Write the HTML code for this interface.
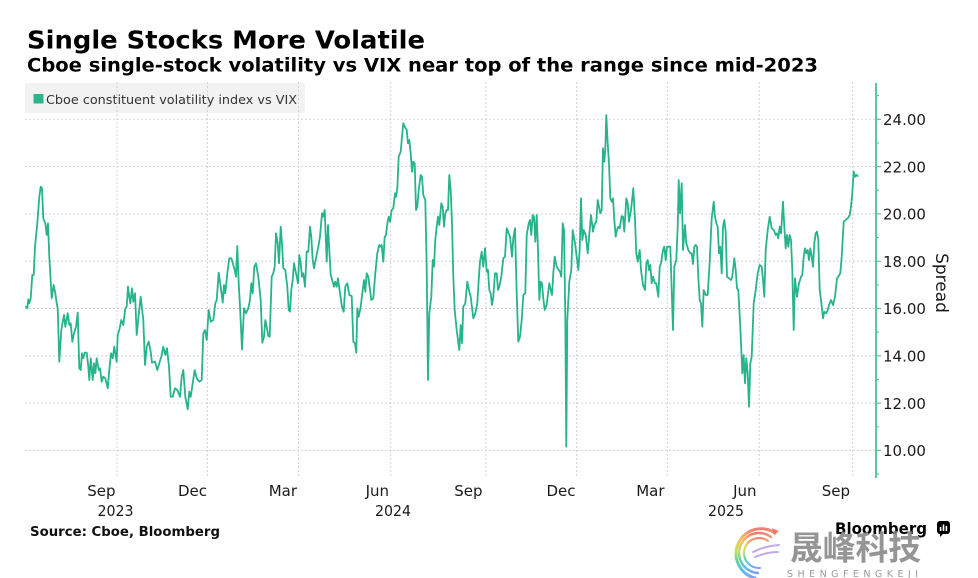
<!DOCTYPE html>
<html>
<head>
<meta charset="utf-8">
<style>
  html,body{margin:0;padding:0;background:#fff;}
  svg{display:block;}
  text{font-family:"DejaVu Sans","Liberation Sans",sans-serif;}
  .cjk{font-family:"Noto Sans CJK SC","WenQuanYi Zen Hei",sans-serif;}
</style>
</head>
<body>
<svg width="978" height="578" viewBox="0 0 978 578" xmlns="http://www.w3.org/2000/svg">
  <defs>
    <linearGradient id="rb" x1="0" y1="0" x2="0" y2="1">
      <stop offset="0" stop-color="#f2665a"/>
      <stop offset="0.22" stop-color="#f7b944"/>
      <stop offset="0.45" stop-color="#b6dc4c"/>
      <stop offset="0.65" stop-color="#55c98a"/>
      <stop offset="0.85" stop-color="#3cb4ea"/>
      <stop offset="1" stop-color="#6a8ff0"/>
    </linearGradient>
  </defs>
  <rect width="978" height="578" fill="#fff"/>

  <!-- Title -->
  <text x="27" y="48.5" font-size="25" font-weight="700" fill="#000" textLength="398" lengthAdjust="spacingAndGlyphs">Single Stocks More Volatile</text>
  <text x="27" y="71.5" font-size="18.5" font-weight="700" fill="#000" textLength="791" lengthAdjust="spacingAndGlyphs">Cboe single-stock volatility vs VIX near top of the range since mid-2023</text>

  <!-- Legend box -->
  <rect x="25" y="83" width="280" height="30" fill="#f2f2f2"/>
  <rect x="33.5" y="94" width="10" height="9.5" fill="#2db48d"/>
  <text x="46" y="104" font-size="12.5" fill="#333" textLength="251" lengthAdjust="spacingAndGlyphs">Cboe constituent volatility index vs VIX</text>

  <!-- Gridlines -->
  <g stroke="#d4d4d4" stroke-width="1" stroke-dasharray="2,2" fill="none">
    <line x1="25" y1="119.3" x2="875" y2="119.3"/>
    <line x1="25" y1="166.6" x2="875" y2="166.6"/>
    <line x1="25" y1="213.9" x2="875" y2="213.9"/>
    <line x1="25" y1="261.2" x2="875" y2="261.2"/>
    <line x1="25" y1="308.5" x2="875" y2="308.5"/>
    <line x1="25" y1="355.8" x2="875" y2="355.8"/>
    <line x1="25" y1="403.1" x2="875" y2="403.1"/>
    <line x1="25" y1="450.4" x2="875" y2="450.4"/>
    <line x1="117" y1="82" x2="117" y2="478"/>
    <line x1="207.5" y1="82" x2="207.5" y2="478"/>
    <line x1="298.5" y1="82" x2="298.5" y2="478"/>
    <line x1="390.7" y1="82" x2="390.7" y2="478"/>
    <line x1="486" y1="82" x2="486" y2="478"/>
    <line x1="576.5" y1="82" x2="576.5" y2="478"/>
    <line x1="667.3" y1="82" x2="667.3" y2="478"/>
    <line x1="759.3" y1="82" x2="759.3" y2="478"/>
    <line x1="852.7" y1="82" x2="852.7" y2="478"/>
  </g>

  <!-- Series -->
  <polyline fill="none" stroke="#27b38b" stroke-width="1.8" stroke-linejoin="round" stroke-linecap="round" points="
26,306.7 27.3,308.3 28.3,299.3 29.3,303.3 30.7,298.3 32.3,275 33.7,275 35,246.7 37.3,223.3 39.3,196.7 40.7,186.7 42,188.3 43.3,218.3 45.3,223.3 46.7,235 48,223.3 49.3,256.7 51.7,298.3 53.7,285 55.3,293.3 56.7,303.3 57.7,308.3 59.3,361.7 61.3,330 64,315 65.3,326.7 67.7,313.3 69.3,325 70.7,323.3 72.3,341.7 74,333.3 76,326.7 77.7,312.7 79.3,368.3 80.7,370 82,353.3 83.3,358.3 84.7,352.7 86.7,352.7 88.3,366.7 89.3,380 90.7,358.3 92.7,380 94,363.3 95.3,373.3 96.7,358.3 98.7,370 100,368.3 101.7,381.7 103.3,376.7 105.3,378.3 107.7,388.3 109.3,370 111,353.3 112.7,358.3 114.3,346.7 116.7,361.7 117.7,335 119.3,330 121.3,320 123.3,325 125.3,308.3 126.7,306.7 128,286.7 129.3,296.7 130.3,303.3 132,288.3 133.3,301.7 135,293.3 136.7,335 138.7,315 140.7,296.7 143.3,320 145,365 146.7,346.7 148.7,341.7 150.7,351.7 152,362.7 155,361.7 157.3,370 159.3,363.3 161.3,356.7 163.3,346.7 165.3,355 167,348.3 169,366.7 170.7,396.7 172.7,396.7 175,388.3 177.3,390 180,396.7 181.7,376.7 183.3,370 185.3,396.7 187.7,409.3 189.3,391.7 190.7,396.7 192.7,383.3 194.7,370 196.7,378.3 199.3,381.7
201.7,380 203.3,333.3 205,330 206.7,340 208.7,310 210.7,321.7 213.3,320 215.3,303.3 216.7,300 218.7,272.7 220.7,286.7 222.7,302.7 224,285 225.3,293.3 227.3,273.3 229.3,258.3 231.3,258.3 233.3,265 234.7,270 236,276.7 237.3,246 238.7,283.3 240,306.7 242,349.3 244,308.3 246,313.3 248.3,308.3 250,300 251.3,283.3 252.7,293.3 254.3,266.7 256,263.3 258.3,276.7 260.7,300 262.3,342.7 264,336.7 265.3,320 266.7,326.7 268.3,336 269.7,336.7 271.7,276.7 273.3,273.3 274.7,266.7 276,233.3 277.7,243.3 279,263.3 280.7,226.7 282,243.3 283.3,268.3 285.3,270 287.3,286.7 288.7,310 290,311.7 291.3,290 292.7,280 294,263.3 295.3,270 296.7,276.7 298,283.3 299.3,255 300.7,263.3 302,276.7 303.3,273.3 305,286.7 306.7,251.7 308.3,251.7 310,226.7 311.3,236.7 312.7,260 314,268.3 316,258.3 318.3,246.7 320,236.7 322,213.3 323.3,216.7 324.7,210 326,243.3 326.7,261.7 328,225 329.3,250 330.7,275 332.7,281.7 334,286.7 335.3,281.7 336.7,286.7 338,278.3 340,293.3 342,306.7 343.7,311.7 345.3,286.7 347.3,283.3 349.3,295 351.7,296 353.3,341.7 355,343.3 356.3,352.7 357.3,308.3 358.7,316.7 360.7,306.7 362.3,293.3 364,280 365.3,291.7 366.7,273.3 368.3,276.7 370,290 371.3,300 373.3,298.3 375.3,273.3 377.3,253.3 379.3,245
380,246.7 381.7,245 383.3,261.7 384.7,236.7 386,235 387.3,223.3 388.7,216.7 390,221.7 391.7,210 393.3,208.3 395,193.3 396,196.7 397.3,188.3 398.7,156.7 400.7,151.7 402,136.7 403.3,123.3 404.7,126.7 406.7,130 408,143.3 409.3,140 410.7,153.3 412,171.7 413.3,161.7 414.7,163.3 416,210 417.3,206.7 418.7,190 420.7,175 422,176.7 423.3,195 425.3,200 426.7,266.7 428,380 429.3,313.3 431.3,296.7 432.7,260 434,266.7 435.3,240 436.7,226.7 438,216.7 439.3,225 441.3,203.3 442.7,206.7 444,226.7 445.3,213.3 446.7,210 448,210 449.3,175 450.7,190 452,223.3 453.3,276.7 454.7,310 456.7,330 459.3,350 460.7,325 462,343.3 463.3,306.7 465.3,303.3 467.3,281.7 469.3,291.7 470.7,296.7 473.3,318.3 475.3,313.3 477.3,303.3 478.7,280 480,261.7 481.7,251.7 483.3,266.7 485,248.3 486.7,271.7 488,270 489.3,290 490.7,293.3 492,305 493.3,296.7 495,273.3 496.7,273.3 498,290 499.3,286.7 501.3,276.7 503.3,258.3 505,256.7 506.7,228.3 508,231.7 510,236.7 512,256.7 513.3,238.3 515,228.3 516.7,293.3 518.3,341.7 520,336.7 521.7,320 523.3,295 525.3,293.3 526.7,235 528.7,223.3 530,220 531.3,235 532.7,215 534,216.7 535.3,241.7 536.7,215 538,250 539.3,300 540.7,281.7 542,283.3 543.3,298.3 544.7,310 546.7,305 548,293.3 549.3,283.3 550.7,290 552,295 553.3,273.3 554.7,256.7 556.7,266.7 558.7,270 560,271.7 561.3,276.7 562.7,223.3 564,230 565.3,316.7 566.3,446.7 567.3,320 569.3,281.7 571.3,270 572.7,230
575,243.3 576.7,256.7 578.3,270 579.7,250 581,198.3 582.3,240 583.7,230 585.7,235 587.7,253.3 589.7,230 591,215 593,231.7 594.3,225 596.3,221.7 597.7,200 599,206.7 600.3,213.3 601.7,210 603,148.3 604.3,161.7 605.3,150 606.3,115 607.7,143.3 609,163.3 610.3,198.3 611.7,201.7 613,198.3 614.3,220 615.7,236.7 617,230 618.3,226.7 619.7,228.3 621.7,216 623,216.7 624.3,231.7 626.3,198.3 627.7,203.3 629,221.7 631,210 633.3,188.3 635,220 636.3,253.3 637.7,261.7 639.7,250 641,270 643,285 645,290 646.3,263.3 647.7,260 649,270 650.3,265 651.7,283.3 653,276.7 655,283.3 656.3,283.3 658.3,296.7 659.7,266.7 661,263.3 663,250 664.3,246.7 665.7,260 667,246.7 669,246.7 670.3,246.7 671.7,290 673,330 674.3,266.7 676.3,260 677.7,226.7 678.7,180 680,213.3 681.7,183.3 683,250 685,225 686.3,243.3 688.3,250 690.3,253.3 691.7,253.3 693,264 694.3,246.7 695.7,245 697,246.7 698.3,276.7 699.7,300 701,303.3 702.3,326.7 703.7,290 705.7,295 707.7,295 709.7,261.7 711.7,218.3 713.7,201.7 715,216.7
716.3,223.3 717.7,226.7 719,253.3 720.3,246.7 721.7,273.3 723,226.7 724.3,220 725.7,231.7 727,276.7 729,278.3 731,280 732.3,276.7 734.3,258.3 735.7,270 737,288.3 738.3,290 740.3,326.7 742.3,373.3 743.7,355 745,383.3 746.3,358.3 747.7,373.3 749,406.7 750.3,363.3 751.7,356.7 753.7,303.3 755.7,290 757.7,273.3 759.7,265 761.7,266.7 763,280 764.3,296.7 765.7,250 767.7,230 769.7,216.7 771.7,228.3 773.7,230 775.7,235 777,233.3 778.3,238.3 779.7,226.7 781,233.3 783,201.7 784.3,226.7 785.7,248.3 787,235 788.3,246.7 789.7,235 791,240 792.3,270 793.7,330 795,278.3 797,296.7 799,283.3 801,276.7 802.3,275 803.7,256.7 805,248.3 806.3,253.3 807.7,250 809,260 810.3,248.3 811.7,256.7 813,266.7 814.3,243.3 815.7,233.3 817,231.7 818.3,240 819.7,290 821,300 823,318.3 824.3,311.7 826.3,313.3 827.7,310 829,305 831,300 833,305 835,296.7 837,278.3 838.3,276.7 840.3,273.3 841.7,256.7 843.7,221.7 845.7,220 847.7,218.3 849.7,215 851,206.7 852.3,193.3 853.7,171.7 855,176.7 856.3,175 857.7,176"/>

  <!-- Right axis -->
  <g stroke="#5ec4a6" stroke-width="2">
    <line x1="876" y1="83" x2="876" y2="478"/>
  </g>
  <g stroke="#5ec4a6" stroke-width="1.2">
    <line x1="876" y1="119.3" x2="881" y2="119.3"/>
    <line x1="876" y1="166.6" x2="881" y2="166.6"/>
    <line x1="876" y1="213.9" x2="881" y2="213.9"/>
    <line x1="876" y1="261.2" x2="881" y2="261.2"/>
    <line x1="876" y1="308.5" x2="881" y2="308.5"/>
    <line x1="876" y1="355.8" x2="881" y2="355.8"/>
    <line x1="876" y1="403.1" x2="881" y2="403.1"/>
    <line x1="876" y1="450.4" x2="881" y2="450.4"/>
    <line x1="876" y1="95.6" x2="879" y2="95.6"/>
    <line x1="876" y1="143" x2="879" y2="143"/>
    <line x1="876" y1="190.3" x2="879" y2="190.3"/>
    <line x1="876" y1="237.6" x2="879" y2="237.6"/>
    <line x1="876" y1="284.9" x2="879" y2="284.9"/>
    <line x1="876" y1="332.2" x2="879" y2="332.2"/>
    <line x1="876" y1="379.5" x2="879" y2="379.5"/>
    <line x1="876" y1="426.8" x2="879" y2="426.8"/>
    <line x1="876" y1="474" x2="879" y2="474"/>
  </g>
  <g font-size="15" fill="#1a1a1a">
    <text x="883" y="125">24.00</text>
    <text x="883" y="172.3">22.00</text>
    <text x="883" y="219.6">20.00</text>
    <text x="883" y="266.9">18.00</text>
    <text x="883" y="314.2">16.00</text>
    <text x="883" y="361.5">14.00</text>
    <text x="883" y="408.8">12.00</text>
    <text x="883" y="456.1">10.00</text>
  </g>
  <text transform="translate(936,283) rotate(90)" text-anchor="middle" font-size="17" fill="#1a1a1a">Spread</text>

  <!-- X axis labels -->
  <g font-size="15" fill="#1a1a1a" text-anchor="end">
    <text x="115.5" y="496">Sep</text>
    <text x="207" y="496">Dec</text>
    <text x="297" y="496">Mar</text>
    <text x="389" y="496">Jun</text>
    <text x="482.5" y="496">Sep</text>
    <text x="575.5" y="496">Dec</text>
    <text x="664.5" y="496">Mar</text>
    <text x="756.5" y="496">Jun</text>
    <text x="850" y="496">Sep</text>
  </g>
  <g font-size="15" fill="#1a1a1a">
    <text x="97.5" y="516" textLength="36" lengthAdjust="spacingAndGlyphs">2023</text>
    <text x="375" y="516" textLength="36" lengthAdjust="spacingAndGlyphs">2024</text>
    <text x="708" y="516" textLength="36" lengthAdjust="spacingAndGlyphs">2025</text>
  </g>

  <!-- Source -->
  <text x="30" y="536" font-size="13" font-weight="700" fill="#111" textLength="190" lengthAdjust="spacingAndGlyphs">Source: Cboe, Bloomberg</text>

  <!-- Bloomberg -->
  <text x="835" y="534" font-size="16" font-weight="700" fill="#000" textLength="92" lengthAdjust="spacingAndGlyphs">Bloomberg</text>
  <rect x="937" y="521" width="13" height="13" rx="3" fill="#000"/>
  <path d="M940,533 L940,537 L944,533 Z" fill="#000"/>
  <g fill="#fff">
    <rect x="939.8" y="527" width="1.6" height="4"/>
    <rect x="942.7" y="524.5" width="1.6" height="6.5"/>
    <rect x="945.6" y="526" width="1.6" height="5"/>
  </g>

  <!-- Watermark -->
  <g opacity="0.85" fill="none" stroke="url(#rb)" stroke-linecap="round">
    <path d="M775,533 A25,25 0 1,0 755,578" stroke-width="3"/>
    <path d="M771,537 A20,20 0 1,0 758,573" stroke-width="2.5"/>
    <path d="M768,541 A15,15 0 1,0 760,568" stroke-width="2"/>
  </g>
  <g opacity="0.75" stroke="#b08be3" stroke-width="2" stroke-linecap="round" fill="none">
    <path d="M753,552 Q765,546 779,545"/>
    <path d="M755,557 Q767,552 778,552"/>
  </g>
  <path d="M772,528 L779,531 L774,535 Z" fill="#f26b5b" opacity="0.85"/>
  <text class="cjk" x="790" y="559.5" font-size="33" font-weight="700" fill="#8a8a8a" opacity="0.9" textLength="131" lengthAdjust="spacingAndGlyphs">晟峰科技</text>
  <text x="787" y="577" font-size="9.5" fill="#9a9a9a" textLength="131" lengthAdjust="spacing">SHENGFENGKEJI</text>
</svg>
</body>
</html>
